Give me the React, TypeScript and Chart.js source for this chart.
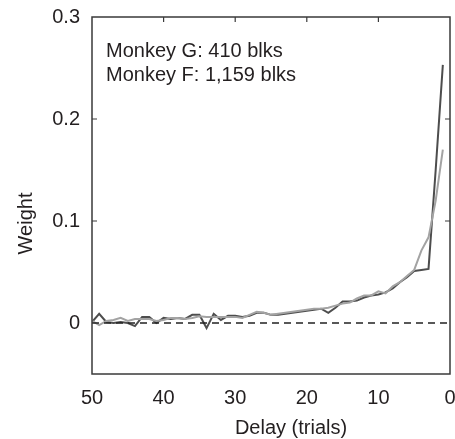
import React, { useEffect, useRef } from "react";
import { Chart, registerables } from "chart.js";

Chart.register(...registerables);

const delays = [1, 2, 3, 4, 5, 6, 7, 8, 9, 10, 11, 12, 13, 14, 15, 16, 17, 18, 19, 20, 21, 22, 23, 24, 25, 26, 27, 28, 29, 30, 31, 32, 33, 34, 35, 36, 37, 38, 39, 40, 41, 42, 43, 44, 45, 46, 47, 48, 49, 50];

const monkeyG = [0.253, 0.15, 0.053, 0.052, 0.051, 0.045, 0.04, 0.034, 0.03, 0.028, 0.027, 0.025, 0.022, 0.021, 0.021, 0.015, 0.01, 0.014, 0.013, 0.012, 0.011, 0.01, 0.009, 0.008, 0.008, 0.01, 0.01, 0.007, 0.006, 0.007, 0.007, 0.003, 0.009, -0.005, 0.008, 0.008, 0.004, 0.005, 0.004, 0.005, 0.0, 0.006, 0.006, -0.003, 0.0, 0.001, 0.0, 0.001, 0.009, 0.001];

const monkeyF = [0.17, 0.12, 0.084, 0.071, 0.052, 0.046, 0.04, 0.036, 0.029, 0.031, 0.027, 0.027, 0.024, 0.02, 0.019, 0.017, 0.015, 0.014, 0.014, 0.013, 0.012, 0.011, 0.01, 0.009, 0.008, 0.01, 0.011, 0.008, 0.005, 0.006, 0.006, 0.006, 0.006, 0.006, 0.0065, 0.005, 0.004, 0.005, 0.005, 0.003, 0.002, 0.004, 0.004, 0.004, 0.002, 0.005, 0.003, 0.002, -0.002, 0.002];

const xTicks = [50, 40, 30, 20, 10, 0];
const yTicks = [0, 0.1, 0.2, 0.3];
const xInnerTicks = [40, 30, 20, 10];
const yInnerTicks = [0.1, 0.2];
const annotations = ["Monkey G: 410 blks", "Monkey F: 1,159 blks"];
const xTitle = "Delay (trials)";
const yTitle = "Weight";

const FONT = "'Liberation Sans', Arial, Helvetica, sans-serif";
const TEXT = "#231f20";

const framePlugin = {
  id: "frame",
  afterDatasetsDraw(chart: any) {
    const { ctx, chartArea, scales } = chart;
    const { left, right, top, bottom } = chartArea;
    ctx.save();
    ctx.strokeStyle = "#3a3a3a";
    ctx.lineWidth = 1.5;
    ctx.strokeRect(left, top, right - left, bottom - top);
    ctx.lineWidth = 1.2;
    ctx.beginPath();
    xInnerTicks.forEach((v) => {
      const x = scales.x.getPixelForValue(v);
      ctx.moveTo(x, top);
      ctx.lineTo(x, top + 5);
    });
    yInnerTicks.forEach((v) => {
      const y = scales.y.getPixelForValue(v);
      ctx.moveTo(left, y);
      ctx.lineTo(left + 5, y);
      ctx.moveTo(right, y);
      ctx.lineTo(right - 5, y);
    });
    ctx.stroke();
    ctx.fillStyle = TEXT;
    ctx.font = `20px ${FONT}`;
    ctx.textAlign = "left";
    ctx.textBaseline = "alphabetic";
    annotations.forEach((t, i) => {
      ctx.fillText(t, left + 14, top + 40 + i * 24);
    });
    ctx.textAlign = "center";
    ctx.textBaseline = "middle";
    ctx.fillText(xTitle, (left + right) / 2 + 20, bottom + 54);
    ctx.translate(26, (top + bottom) / 2 + 28);
    ctx.rotate(-Math.PI / 2);
    ctx.fillText(yTitle, 0, 0);
    ctx.restore();
  },
};

export default function App() {
  const ref = useRef<HTMLCanvasElement | null>(null);

  useEffect(() => {
    if (!ref.current) return;
    const chart = new Chart(ref.current, {
      type: "line",
      data: {
        datasets: [
          {
            label: "zero",
            data: [
              { x: 50, y: 0 },
              { x: 0, y: 0 },
            ],
            borderColor: "#222222",
            borderWidth: 1.5,
            borderDash: [7, 5],
            pointRadius: 0,
          },
          {
            label: "Monkey F",
            data: delays.map((d, i) => ({ x: d, y: monkeyF[i] })),
            borderColor: "#a3a3a3",
            borderWidth: 2,
            pointRadius: 0,
            tension: 0,
          },
          {
            label: "Monkey G",
            data: delays.map((d, i) => ({ x: d, y: monkeyG[i] })),
            borderColor: "#4d4d4d",
            borderWidth: 2,
            pointRadius: 0,
            tension: 0,
          },
        ],
      },
      options: {
        animation: false,
        responsive: false,
        maintainAspectRatio: false,
        layout: { padding: { left: 0, top: 17, right: 5, bottom: 0 } },
        plugins: {
          legend: { display: false },
          tooltip: { enabled: false },
        },
        scales: {
          x: {
            type: "linear",
            reverse: true,
            min: 0,
            max: 50,
            grid: { display: false, drawTicks: false },
            border: { display: false },
            afterBuildTicks: (scale: any) => {
              scale.ticks = xTicks.map((v) => ({ value: v }));
            },
            afterFit: (scale: any) => {
              scale.height = 65;
              scale.paddingLeft = 0;
              scale.paddingRight = 0;
            },
            ticks: {
              color: TEXT,
              font: { size: 20, family: FONT },
              padding: 12,
              maxRotation: 0,
              autoSkip: false,
              callback: (v: any) => String(v),
            },
          },
          y: {
            type: "linear",
            min: -0.05,
            max: 0.3,
            grid: { display: false, drawTicks: false },
            border: { display: false },
            afterBuildTicks: (scale: any) => {
              scale.ticks = yTicks.map((v) => ({ value: v }));
            },
            afterFit: (scale: any) => {
              scale.width = 92;
              scale.paddingTop = 0;
              scale.paddingBottom = 0;
            },
            ticks: {
              color: TEXT,
              font: { size: 20, family: FONT },
              padding: 12,
              autoSkip: false,
              callback: (v: any) => String(Math.round(v * 10) / 10),
            },
          },
        },
      },
      plugins: [framePlugin],
    });
    return () => chart.destroy();
  }, []);

  return (
    <div style={{ position: "fixed", left: 0, top: 0, width: 455, height: 439, background: "#fff" }}>
      <canvas ref={ref} width={455} height={439} style={{ width: 455, height: 439, display: "block" }} />
    </div>
  );
}
